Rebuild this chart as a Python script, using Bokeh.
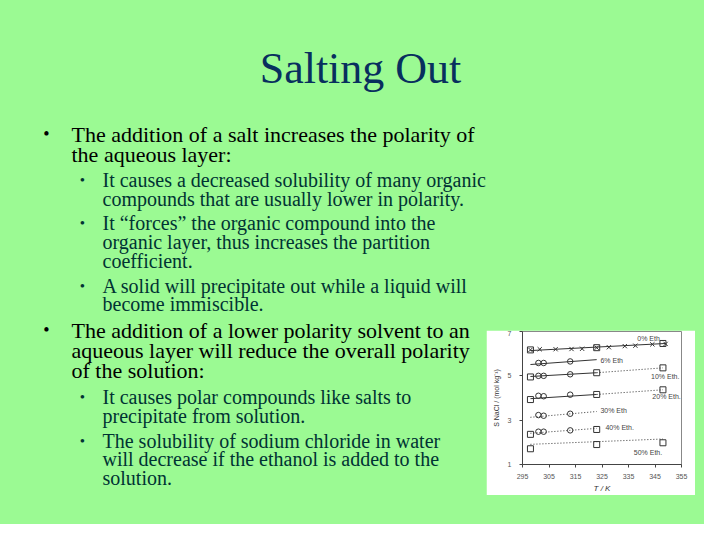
from bokeh.plotting import figure
from bokeh.models import Range1d, Label, Spacer, FixedTicker
from bokeh.layouts import column, row
from bokeh.embed import file_html
from bokeh.resources import INLINE

GREEN = "#9BFA93"
NAVY = "#082F5E"
TEAL = "#003333"
INK = "#333333"

# ---------------- slide text ----------------
title = "Salting Out"
top_lines = [
    (1, "The addition of a salt increases the polarity of", True),
    (1, "the aqueous layer:", False),
    (2, "It causes a decreased solubility of many organic", True),
    (2, "compounds that are usually lower in polarity.", False),
    (2, "It \u201cforces\u201d the organic compound into the", True),
    (2, "organic layer, thus increases the partition", False),
    (2, "coefficient.", False),
    (2, "A solid will precipitate out while a liquid will", True),
    (2, "become immiscible.", False),
]
top_baselines = [141, 161, 186, 205, 229, 248, 267, 292, 310]
bottom_lines = [
    (1, "The addition of a lower polarity solvent to an", True),
    (1, "aqueous layer will reduce the overall polarity", False),
    (1, "of the solution:", False),
    (2, "It causes polar compounds like salts to", True),
    (2, "precipitate from solution.", False),
    (2, "The solubility of sodium chloride in water", True),
    (2, "will decrease if the ethanol is added to the", False),
    (2, "solution.", False),
]
bottom_baselines = [337, 357, 377, 403, 422, 447, 465, 484]

# ---------------- chart data ----------------
x_ticks = [295, 305, 315, 325, 335, 345, 355]
y_ticks = [1, 3, 5, 7]

T_cross_0 = [298, 301.5, 307.5, 313.5, 317.5, 323, 327.6, 333.6, 337.6, 344, 349]
S_cross_0 = [6.17, 6.20, 6.20, 6.21, 6.22, 6.27, 6.29, 6.34, 6.36, 6.42, 6.44]

T_square = [298, 323, 348]
S_square_0 = [6.17, 6.27, 6.46]
S_square_10 = [4.95, 5.14, 5.36]
S_square_20 = [3.93, 4.16, 4.37]
T_square_40 = [298, 323]
S_square_40 = [2.36, 2.58]
S_square_50 = [1.71, 1.90, 1.98]

T_circle = [301, 303, 313]
S_circle_6 = [5.58, 5.58, 5.65]
S_circle_10 = [5.00, 5.00, 5.07]
S_circle_20 = [4.10, 4.08, 4.15]
S_circle_30 = [3.23, 3.20, 3.29]
S_circle_40 = [2.48, 2.48, 2.54]

fit_0_T, fit_0_S = [298, 349], [6.14, 6.46]
fit_6_T, fit_6_S = [298, 323], [5.51, 5.73]
fit_10a_T, fit_10a_S = [298, 323], [4.97, 5.14]
fit_10b_T, fit_10b_S = [323, 348], [5.14, 5.36]
fit_20a_T, fit_20a_S = [298, 323], [3.97, 4.16]
fit_20b_T, fit_20b_S = [323, 348], [4.16, 4.37]
fit_30_T, fit_30_S = [298, 323], [3.13, 3.39]
fit_40_T, fit_40_S = [298, 323], [2.41, 2.63]
fit_50_T, fit_50_S = [298, 348], [1.91, 2.15]

series_labels = ["0% Eth.", "6% Eth", "10% Eth.", "20% Eth.", "30% Eth", "40% Eth.", "50% Eth."]

# rendered alphabetic baseline sits ~0.34 em below the label's y
SHIFT = 0.34
SPLIT = 315  # boundary between upper and lower text panels


def text_fig(w, h, x0, x1, y0, y1):
    p = figure(width=w, height=h, x_range=Range1d(x0, x1), y_range=Range1d(y1, y0),
               output_backend="svg", toolbar_location=None, min_border=0,
               x_axis_location=None, y_axis_location=None,
               background_fill_color=GREEN, border_fill_color=GREEN,
               outline_line_color=None)
    p.grid.visible = False
    return p


def add_lines(p, lines, baselines):
    for (lvl, txt, bullet), yb in zip(lines, baselines):
        if lvl == 1:
            x, fs, color, bx, bfs, bdy = 71, 22, "#000000", 46, 18, 7.7
        else:
            x, fs, color, bx, bfs, bdy = 102, 20, TEAL, 82, 15, 7.0
        p.add_layout(Label(x=x, y=yb - SHIFT * fs, text=txt, text_font="Liberation Serif",
                           text_font_size=f"{fs}px", text_color=color,
                           text_baseline="alphabetic", text_align="left"))
        if bullet:
            p.add_layout(Label(x=bx, y=yb - bdy, text="\u2022", text_font="Liberation Serif",
                               text_font_size=f"{bfs}px", text_color=color,
                               text_baseline="alphabetic", text_align="center"))


top = text_fig(704, SPLIT, 0, 704, 0, SPLIT)
top.add_layout(Label(x=360, y=83 - SHIFT * 44, text=title, text_font="Liberation Serif",
                     text_font_size="44px", text_color=NAVY,
                     text_baseline="alphabetic", text_align="center"))
add_lines(top, top_lines, top_baselines)

bl = text_fig(486, 524 - SPLIT, 0, 486, SPLIT, 524)
add_lines(bl, bottom_lines, bottom_baselines)

# ---------------- chart ----------------
ch = figure(width=209, height=165, x_range=Range1d(295, 355), y_range=Range1d(1, 7),
            output_backend="svg", toolbar_location=None,
            min_border_left=36, min_border_right=14, min_border_top=1, min_border_bottom=29,
            background_fill_color="white", border_fill_color="white",
            outline_line_color="#888888")
ch.grid.visible = False
ch.xaxis.ticker = FixedTicker(ticks=x_ticks)
ch.yaxis.ticker = FixedTicker(ticks=y_ticks)
for ax in ch.axis:
    ax.major_label_text_font = "Liberation Sans"
    ax.major_label_text_font_size = "7px"
    ax.major_label_text_color = "#555555"
    ax.axis_line_color = "#444444"
    ax.major_tick_line_color = "#444444"
    ax.major_tick_out = 3
    ax.major_tick_in = 0
    ax.minor_tick_line_color = None
    ax.axis_label_text_font = "Liberation Sans"
    ax.axis_label_text_font_size = "7px"
    ax.axis_label_text_color = "#333333"
    ax.axis_label_text_font_style = "normal"
ch.xaxis.major_label_standoff = 6
ch.yaxis.major_label_standoff = 8
ch.xaxis.axis_label = "T / K"
ch.xaxis.axis_label_text_font_size = "8px"
ch.xaxis.axis_label_text_font_style = "italic"
ch.xaxis.axis_label_standoff = 2
ch.yaxis.axis_label = "S NaCl / (mol kg\u207b\u00b9)"
ch.yaxis.axis_label_standoff = 5

# fit lines
for tx, sy in [(fit_0_T, fit_0_S), (fit_6_T, fit_6_S), (fit_10a_T, fit_10a_S), (fit_20a_T, fit_20a_S)]:
    ch.line(tx, sy, line_color=INK, line_width=1)
for tx, sy in [(fit_10b_T, fit_10b_S), (fit_20b_T, fit_20b_S), (fit_30_T, fit_30_S),
               (fit_40_T, fit_40_S), (fit_50_T, fit_50_S)]:
    ch.line(tx, sy, line_color=INK, line_width=1, line_dash="1 2")

# markers
ch.scatter(T_cross_0, S_cross_0, marker="x", size=6, line_color=INK)
for tx, sy in [(T_square, S_square_0), (T_square, S_square_10), (T_square, S_square_20),
               (T_square_40, S_square_40), (T_square, S_square_50)]:
    ch.scatter(tx, sy, marker="square", size=6, fill_color=None, line_color=INK)
for sy in [S_circle_6, S_circle_10, S_circle_20, S_circle_30, S_circle_40]:
    ch.scatter(T_circle, sy, marker="circle", size=5.5, fill_color=None, line_color=INK)

label_pos = [(338.3, 6.68), (324.4, 5.68), (343.5, 4.95), (344.0, 4.07),
             (324.4, 3.42), (326.3, 2.67), (337.0, 1.56)]
for txt, (lx, ly) in zip(series_labels, label_pos):
    ch.add_layout(Label(x=lx, y=ly, text=txt, text_font="Liberation Sans",
                        text_font_size="7px", text_color="#444444",
                        text_baseline="middle", text_align="left"))

right_col = column(Spacer(width=218, height=330 - SPLIT),
                   row(ch, Spacer(width=9, height=165)),
                   Spacer(width=218, height=29))
layout = column(top, row(bl, right_col), styles={"background-color": GREEN})

open("out.html", "w").write(file_html(layout, INLINE))
